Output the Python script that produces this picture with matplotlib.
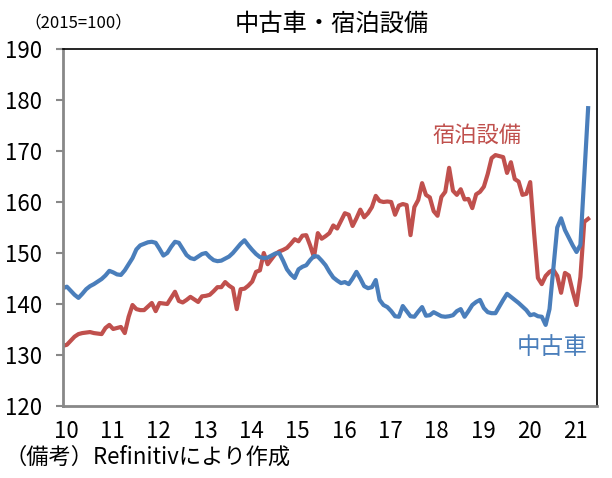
import matplotlib
matplotlib.use("Agg")
import matplotlib.pyplot as plt

plt.rcParams['font.family'] = ['Noto Sans CJK JP', 'DejaVu Sans']

# monthly index, Jan 2010 .. May 2021 (2015=100)
used_cars = [
    143.1, 143.4, 142.6, 141.8, 141.2, 142.0, 142.9, 143.5, 143.9, 144.4, 144.9, 145.6,
    146.5, 146.2, 145.8, 145.7, 146.6, 147.8, 149.0, 150.7, 151.5, 151.8, 152.1, 152.2,
    152.0, 150.8, 149.5, 150.0, 151.2, 152.2, 152.0, 150.8, 149.6, 149.0, 148.8, 149.3,
    149.8, 150.0, 149.2, 148.6, 148.4, 148.5, 148.9, 149.3, 150.0, 150.9, 151.8, 152.5,
    151.5, 150.6, 149.8, 149.2, 149.0, 149.1, 149.5, 149.9, 150.0, 148.5, 146.8, 145.8,
    145.1, 146.8, 147.3, 147.6, 148.6, 149.4, 149.3, 148.5, 147.6, 146.3, 145.2, 144.6,
    144.1, 144.3, 143.9, 145.0, 146.3, 145.0, 143.5, 143.1, 143.3, 144.7, 140.8, 139.8,
    139.4, 138.6, 137.6, 137.5, 139.6, 138.6, 137.6, 137.5, 138.5, 139.4, 137.7, 137.8,
    138.4, 138.0, 137.6, 137.5, 137.6, 137.8, 138.6, 139.0, 137.5, 138.6, 139.8, 140.4,
    140.8, 139.2, 138.4, 138.2, 138.2, 139.5, 140.8, 142.0, 141.4, 140.8, 140.2, 139.5,
    138.8, 137.8, 138.0, 137.6, 137.5, 135.9, 139.0, 147.0, 155.0, 156.8, 154.5, 153.0,
    151.5, 150.2, 151.6, 165.0, 178.4,
]
lodging = [
    131.8, 132.0, 132.8, 133.6, 134.1, 134.3, 134.4, 134.5, 134.3, 134.2, 134.1, 135.3,
    135.9, 135.1, 135.3, 135.5, 134.3, 137.5, 139.8, 139.0, 138.8, 138.8, 139.5, 140.2,
    138.6, 140.2, 140.1, 140.0, 141.2, 142.4, 140.6, 140.3, 140.8, 141.4, 140.9, 140.4,
    141.5, 141.6, 141.8, 142.5, 143.3, 143.3, 144.3, 143.6, 143.1, 139.0, 142.9, 143.0,
    143.6, 144.4, 146.3, 146.6, 150.0, 147.8, 148.8, 149.8, 150.3, 150.6, 151.0, 151.8,
    152.7, 152.3, 153.4, 153.5, 151.5, 149.2, 153.9, 152.8, 153.3, 153.9, 155.4, 154.8,
    156.3, 157.8, 157.5, 155.3, 156.8, 158.5, 157.0, 157.8, 159.0, 161.2, 160.2, 160.0,
    160.1, 160.0, 157.5, 159.3, 159.6, 159.4, 153.5, 159.0, 160.4, 163.7, 161.4, 160.9,
    158.2, 157.3, 161.0, 162.0, 166.7, 162.2, 161.4, 162.5, 160.5, 160.6, 158.8, 161.5,
    162.0, 163.0, 165.5, 168.6, 169.2, 169.0, 168.8, 165.7, 167.8, 164.5, 164.0, 161.4,
    161.6, 163.9, 154.0, 145.1, 143.9, 145.5, 146.3, 146.7, 145.5, 142.2, 146.1, 145.6,
    142.5, 139.8, 145.3, 156.1, 156.7,
]
year_labels = ['10', '11', '12', '13', '14', '15', '16', '17', '18', '19', '20', '21']
y_ticks = [120, 130, 140, 150, 160, 170, 180, 190]

blue = '#4a7ebb'
red = '#c0504d'

fig = plt.figure(figsize=(6.12, 4.78), dpi=100)
ax = fig.add_axes([63 / 612, 1 - 406 / 478, 534 / 612, 357 / 478])

months = list(range(len(lodging)))
ax.plot(months, lodging, color=red, lw=3, solid_joinstyle='round')
ax.plot(months, used_cars, color=blue, lw=3, solid_joinstyle='round')

ax.set_xlim(0, 138.3)
ax.set_ylim(120, 190)
ax.set_yticks(y_ticks)
ax.set_yticklabels([str(v) for v in y_ticks], fontsize=16)
ax.set_xticks([12 * i + 0.8 for i in range(len(year_labels))])
ax.set_xticklabels(year_labels, fontsize=16)
ax.tick_params(axis='y', length=5, width=1.5, color='#888888', pad=10)
ax.tick_params(axis='x', length=0, pad=10)

for side in ['top', 'right']:
    ax.spines[side].set_color('black')
    ax.spines[side].set_linewidth(1.2)
for side in ['left', 'bottom']:
    ax.spines[side].set_color('#888888')
    ax.spines[side].set_linewidth(2)


# labels placed in figure pixels (origin at top-left)
def px(x, y):
    return x / 612, 1 - y / 478


fig.text(*px(477, 135), '宿泊設備', color=red, fontsize=16, ha='center', va='center')
fig.text(*px(552, 347), '中古車', color=blue, fontsize=17, ha='center', va='center')
fig.text(*px(332, 24), '中古車・宿泊設備', fontsize=17.5, ha='center', va='center')
fig.text(*px(78, 23), '（2015=100）', fontsize=12, ha='center', va='center')
fig.text(*px(5, 457), '（備考）Refinitivにより作成', fontsize=16, ha='left', va='center')

fig.savefig('out.png', dpi=100)
